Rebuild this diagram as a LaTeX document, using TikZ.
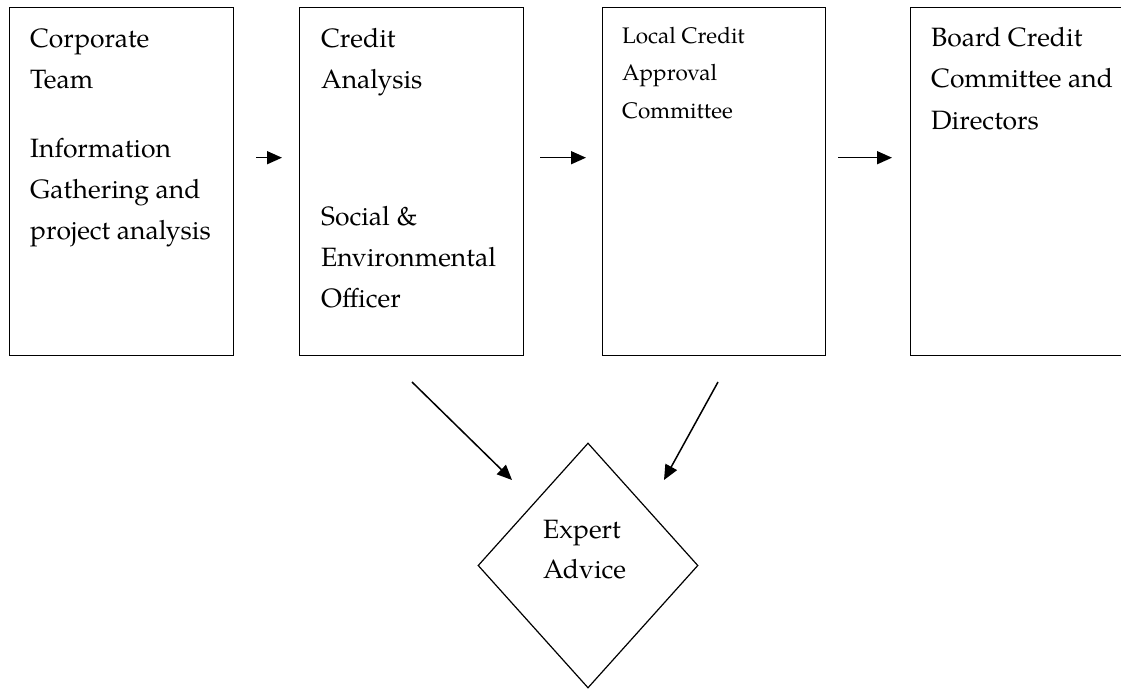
\documentclass[tikz,border=0pt]{standalone}
\usepackage{fontspec}
\setmainfont{TeX Gyre Pagella}
\usetikzlibrary{arrows.meta,shapes.geometric}

\begin{document}
\begin{tikzpicture}[x=1pt,y=-1pt,
  box/.style={draw,line width=1.4pt,rectangle,anchor=north west,inner sep=0pt,
              minimum height=348pt},
  % multi-line texts are placed by the baseline of their last line
  label/.style={anchor=base west,inner sep=0pt,align=left,
                font=\fontsize{26.5}{41}\selectfont},
  smalllabel/.style={label,font=\fontsize{22.5}{37}\selectfont},
  flow/.style={line width=1.5pt,-{Triangle[length=15pt,width=13pt]}}]

  \useasboundingbox (0,0) rectangle (1121,690);

  % stage boxes
  \node[box,minimum width=224pt] (corp)  at (9,7)   {};
  \node[box,minimum width=224pt] (credit) at (299,7) {};
  \node[box,minimum width=223pt] (local) at (602,7) {};
  \node[box,minimum width=224pt] (board) at (910,7) {};

  % box texts
  \node[label] (corpT) at (30,239)
    {Corporate\\Team\\[28pt]Information\\Gathering and\\project analysis};
  \node[label] (creditT) at (321,307)
    {Credit\\Analysis\\[96pt]Social \&\\Environmental\\Officer};
  \node[smalllabel] (localT) at (622,118)
    {Local Credit\\Approval\\Committee};
  \node[label] (boardT) at (931,129)
    {Board Credit\\Committee and\\Directors};

  % expert advice diamond
  \node[diamond,draw,line width=1.2pt,inner sep=0pt,minimum width=220pt,
        minimum height=245pt] (expert) at (588,565.5) {};
  \node[label,font=\fontsize{26.5}{40}\selectfont] (expertT) at (543,578)
    {Expert\\Advice};

  % horizontal flow between stages
  \draw[flow,shorten <=22pt,shorten >=17pt]
    ([yshift=24pt]corp.east) -- ([yshift=24pt]credit.west);
  \draw[flow,shorten <=16pt,shorten >=16pt]
    ([yshift=24pt]credit.east) -- ([yshift=24pt]local.west);
  \draw[flow,shorten <=12pt,shorten >=18pt]
    ([yshift=24pt]local.east) -- ([yshift=24pt]board.west);

  % referrals to expert advice
  \coordinate (refA) at (412,382);
  \coordinate (hitA) at (512,480);
  \coordinate (refB) at (718,382);
  \coordinate (hitB) at (664,480);
  \draw[flow] (refA) -- (hitA);
  \draw[flow] (refB) -- (hitB);
\end{tikzpicture}
\end{document}
